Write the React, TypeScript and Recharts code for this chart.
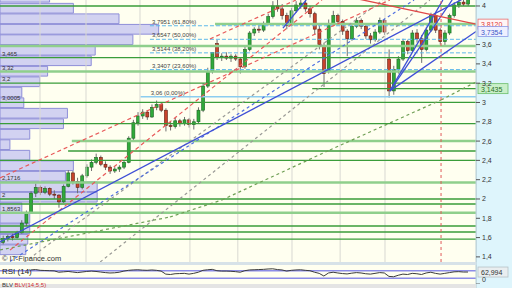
import React from "react";
import { ComposedChart, LineChart, Line, Bar, XAxis, YAxis, ReferenceLine, ReferenceArea } from "recharts";

// daily candles, left to right
const opens = [
  1.55, 1.59, 1.61, 1.6, 1.65, 1.75, 1.86, 2.06, 2.12, 2.07,
  2.11, 2.05, 2.04, 1.97, 2.13, 2.27, 2.18, 2.12, 2.24, 2.33,
  2.38, 2.43, 2.36, 2.33, 2.29, 2.31, 2.33, 2.38, 2.63, 2.79,
  2.86, 2.9, 2.85, 2.95, 2.98, 2.92, 2.76, 2.75, 2.81, 2.78,
  2.82, 2.77, 2.8, 2.92, 3.17, 3.32, 3.61, 3.47, 3.48, 3.46,
  3.48, 3.45, 3.37, 3.55, 3.72, 3.76, 3.75, 3.82, 3.89, 4.0,
  3.97, 3.9, 3.8, 3.95, 4.01, 4.03, 3.97, 3.92, 3.76, 3.58,
  3.32, 3.82, 3.9, 3.84, 3.74, 3.66, 3.79, 3.85, 3.79, 3.69,
  3.65, 3.73, 3.85, 3.45, 3.12, 3.34, 3.45, 3.63, 3.54, 3.72,
  3.66, 3.55, 3.75, 3.9, 3.75, 3.63, 3.72, 3.9, 4.01, 4.04,
  4.02,
];
const highs = [
  1.62, 1.63, 1.64, 1.67, 1.78, 1.88, 2.08, 2.16, 2.14, 2.13,
  2.12, 2.09, 2.05, 2.15, 2.3, 2.29, 2.22, 2.26, 2.36, 2.41,
  2.47, 2.45, 2.39, 2.35, 2.33, 2.35, 2.4, 2.65, 2.82, 2.9,
  2.93, 2.92, 2.98, 3.02, 3.0, 2.94, 2.8, 2.84, 2.83, 2.85,
  2.84, 2.83, 2.95, 3.2, 3.36, 3.52, 3.65, 3.51, 3.52, 3.5,
  3.5, 3.47, 3.58, 3.74, 3.78, 3.8, 3.84, 3.92, 4.05, 4.08,
  4.02, 3.93, 3.98, 4.05, 4.08, 4.06, 4.0, 3.94, 3.8, 3.62,
  3.86, 3.95, 3.92, 3.86, 3.76, 3.82, 3.88, 3.87, 3.81, 3.72,
  3.76, 3.88, 3.87, 3.55, 3.38, 3.48, 3.66, 3.65, 3.75, 3.76,
  3.7, 3.78, 3.93, 3.92, 3.77, 3.75, 3.92, 4.04, 4.08, 4.09,
  4.1,
];
const lows = [
  1.53, 1.56, 1.57, 1.59, 1.64, 1.72, 1.85, 2.02, 2.04, 2.05,
  2.03, 2.0, 1.91, 1.96, 2.12, 2.15, 2.06, 2.1, 2.22, 2.29,
  2.36, 2.34, 2.3, 2.26, 2.27, 2.28, 2.31, 2.37, 2.6, 2.76,
  2.83, 2.82, 2.84, 2.92, 2.9, 2.7, 2.71, 2.73, 2.75, 2.76,
  2.74, 2.72, 2.78, 2.9, 3.15, 3.3, 3.44, 3.43, 3.44, 3.42,
  3.43, 3.3, 3.35, 3.53, 3.69, 3.72, 3.73, 3.8, 3.87, 3.94,
  3.86, 3.76, 3.79, 3.93, 3.97, 3.94, 3.88, 3.7, 3.55, 3.16,
  3.3, 3.8, 3.8, 3.7, 3.48, 3.64, 3.77, 3.76, 3.66, 3.61,
  3.63, 3.71, 3.7, 3.05, 3.08, 3.3, 3.43, 3.5, 3.52, 3.62,
  3.41, 3.53, 3.73, 3.72, 3.6, 3.58, 3.7, 3.88, 3.98, 4.0,
  4.0,
];
const closes = [
  1.59, 1.61, 1.6, 1.65, 1.75, 1.86, 2.06, 2.12, 2.07, 2.11,
  2.05, 2.04, 1.97, 2.13, 2.27, 2.18, 2.12, 2.24, 2.33, 2.38,
  2.43, 2.36, 2.33, 2.29, 2.31, 2.33, 2.38, 2.63, 2.79, 2.86,
  2.9, 2.85, 2.95, 2.98, 2.92, 2.76, 2.75, 2.81, 2.78, 2.82,
  2.77, 2.8, 2.92, 3.17, 3.32, 3.52, 3.47, 3.48, 3.46, 3.48,
  3.45, 3.37, 3.55, 3.72, 3.76, 3.75, 3.82, 3.89, 4.0, 3.97,
  3.9, 3.8, 3.95, 4.01, 4.03, 3.97, 3.92, 3.76, 3.6, 3.3,
  3.82, 3.9, 3.84, 3.74, 3.66, 3.79, 3.85, 3.79, 3.69, 3.65,
  3.73, 3.85, 3.73, 3.12, 3.34, 3.45, 3.63, 3.54, 3.72, 3.66,
  3.55, 3.75, 3.9, 3.75, 3.63, 3.72, 3.9, 4.01, 4.04, 4.02,
  4.07,
];
const rsi14 = [
  null, null, null, null, null, null, 74, 76, 72, 71,
  70, 69, 62, 64, 66, 63, 60, 63, 66, 68,
  66, 63, 60, 58, 59, 62, 68, 72, 74, 75,
  73, 72, 74, 72, 68, 52, 50, 54, 55, 56,
  52, 56, 62, 72, 75, 77, 70, 68, 68, 67,
  65, 62, 70, 74, 75, 76, 77, 79, 80, 76,
  74, 68, 72, 74, 75, 72, 70, 62, 56, 42,
  58, 62, 58, 55, 53, 57, 60, 58, 54, 52,
  56, 60, 58, 40, 38, 46, 52, 50, 56, 54,
  50, 58, 62, 56, 52, 56, 60, 64, 65, 63,
  63,
];

const priceTicks = [1.4, 1.6, 1.8, 2, 2.2, 2.4, 2.6, 2.8, 3, 3.2, 3.4, 3.6, 4];

// volume by price: bin top price and volume (k)
const vpTops = [4.145, 4.031, 3.922, 3.813, 3.705, 3.596, 3.487, 3.378, 3.269, 3.161, 3.052, 2.943, 2.834, 2.725, 2.617, 2.508, 2.399, 2.29, 2.181, 2.073, 1.964, 1.855, 1.746, 1.637, 1.528];
const vpVolumes = [25, 37, 60, 80, 67, 48, 46, 24, 20, 11, 12, 34, 32, 15, 5, 15, 37, 33, 49, 49, 11, 15, 15, 14, 13];
const vpStep = 0.1088;
const VP_MAX = 240; // volume that would span the full plot width

// support / resistance levels
const darkLevels = [4.0, 3.465, 3.2, 3.0005, 2.78, 2.4, 2, 1.948, 1.72, 1.658, 1.585];
const lightLevels = [3.585, 3.32, 2.1716, 1.8563];
const partialDark = [[3.1435, 66.5], [2.497, 14]];
const partialLight = [[3.813, 45.6], [2.6, 14.8]];
const taggedLevels = [3.465, 3.32, 3.2, 3.0005, 2.1716, 2, 1.8563];

// fibonacci retracement
const fibPrices = [3.7951, 3.6547, 3.5144, 3.3407];
const fibPct = ["61,80%", "50,00%", "38,20%", "23,60%"];
const fibBase = 3.06;
const fibStart = 31.6;

// trend lines, [index, price] pairs
const blueSolid = [
  [[-0.645, 1.554], [101.72, 4.145]],
  [[83.2, 3.12], [101.72, 3.7354]],
  [[83.2, 3.12], [94.6, 4.062]],
  [[83.2, 3.12], [96.6, 4.062]],
  [[60.2, 3.77], [65.2, 4.062]],
];
const redSolid = [[[70, 4.138], [101.72, 3.812]]];
const redDashed = [
  [[-0.645, 2.218], [83.2, 4.062]],
  [[44.5, 3.658], [63, 4.062]],
  [[1.5, 1.47], [68.6, 4.062]],
];
const grayDashed = [
  [[-0.645, 1.161], [81.7, 4.062]],
  [[20.9, 1.347], [91.8, 4.062]],
];
const blueDashed = [[[-0.645, 1.285], [88.4, 4.062]]];
const greenDashedPts = [[-0.645, 1.472], [35.9, 1.813], [47.1, 1.99], [70.3, 2.508], [94.2, 3.026], [101.72, 3.212]];

const monthLines = [7.96, 17.85, 29.46, 40.2, 50.5, 62.15, 72.5, 82.15];
const markerIdx = 94.2;

const X_DOMAIN: [number, number] = [-0.645, 101.72];
const Y_DOMAIN: [number, number] = [1.347, 4.062];

const fmt = (v: number) => String(v).replace(".", ",");
const volToX = (v: number) => X_DOMAIN[0] + (v / VP_MAX) * (X_DOMAIN[1] - X_DOMAIN[0]);

const candles = opens.map((o, i) => ({
  i,
  open: o,
  high: highs[i],
  low: lows[i],
  close: closes[i],
  range: [lows[i], highs[i]],
}));
const rsiData = rsi14.map((r, i) => ({ i, rsi: r }));

const Candle = (props: any) => {
  const { x, y, width, height, payload } = props;
  if (height == null || !payload) return null;
  const k = height / (payload.high - payload.low);
  const py = (v: number) => y + (payload.high - v) * k;
  const up = payload.close >= payload.open;
  const top = py(Math.max(payload.open, payload.close));
  const bot = py(Math.min(payload.open, payload.close));
  const cx = x + width / 2;
  return (
    <g>
      <line x1={cx} x2={cx} y1={y} y2={y + height} stroke="#6f6f6f" strokeWidth={1} />
      <rect
        x={x}
        y={top}
        width={width}
        height={Math.max(1, bot - top)}
        fill={up ? "#2faa3a" : "#c8432c"}
        stroke={up ? "#1c6322" : "#5e1d12"}
        strokeWidth={0.6}
      />
    </g>
  );
};

const PriceTag = ({ vb, text, color, bg, border }: any) => {
  if (!vb) return null;
  const x = vb.x + vb.width + 2;
  return (
    <g>
      <rect x={x} y={vb.y - 5} width={30} height={10} fill={bg} stroke={border} strokeWidth={0.8} />
      <text x={x + 3} y={vb.y + 3} fontSize={7} fontFamily="Liberation Sans, Arial" fill={color}>
        {text}
      </text>
    </g>
  );
};

const font = "Liberation Sans, Arial, sans-serif";

export default function App() {
  return (
    <div style={{ position: "absolute", left: 0, top: 0, width: 512, height: 288, overflow: "hidden", background: "#fffff0", fontFamily: font }}>
      <div style={{ position: "absolute", left: 476, top: 0, width: 36, height: 288, background: "#def5fc", borderLeft: "1px solid #c9dfe6" }} />
      <div style={{ position: "absolute", left: 0, top: 262, width: 476, height: 3, background: "#d7e2e8" }} />
      <div style={{ position: "absolute", left: 0, top: 284, width: 476, height: 4, background: "#e4e4e4" }} />

      <div style={{ position: "absolute", left: 0, top: 0 }}>
        <ComposedChart width={512} height={262} data={candles} margin={{ top: 0, right: 0, bottom: 0, left: 0 }}>
          <XAxis dataKey="i" type="number" domain={X_DOMAIN} allowDataOverflow hide />
          <YAxis
            orientation="right"
            width={36}
            domain={Y_DOMAIN}
            allowDataOverflow
            ticks={priceTicks}
            interval={0}
            tickFormatter={fmt}
            tick={{ fontSize: 7, fill: "#333", fontFamily: font }}
            tickLine={{ stroke: "#555" }}
            tickSize={4}
            tickMargin={2}
            axisLine={{ stroke: "#b9cfd6" }}
          />

          {monthLines.map((m) => (
            <ReferenceLine key={`m${m}`} x={m} stroke="#d9d9d2" strokeWidth={1} />
          ))}

          {vpTops.map((t, k) => (
            <ReferenceArea
              key={`vp${k}`}
              x1={X_DOMAIN[0]}
              x2={volToX(vpVolumes[k])}
              y1={t - vpStep + 0.004}
              y2={t - 0.004}
              ifOverflow="hidden"
              fill="#c7c7f1"
              fillOpacity={0.8}
              stroke="#8e8ed8"
              strokeWidth={1}
            />
          ))}

          {lightLevels.map((p) => (
            <ReferenceLine key={`l${p}`} y={p} stroke="#8fcf8c" strokeWidth={2.5} />
          ))}
          {partialLight.map(([p, s]) => (
            <ReferenceLine key={`pl${p}`} segment={[{ x: s, y: p }, { x: X_DOMAIN[1], y: p }]} stroke="#8fcf8c" strokeWidth={2.5} ifOverflow="hidden" />
          ))}
          {darkLevels.map((p) => (
            <ReferenceLine key={`d${p}`} y={p} stroke="#3a9d3a" strokeWidth={1.3} />
          ))}
          {partialDark.map(([p, s]) => (
            <ReferenceLine key={`pd${p}`} segment={[{ x: s, y: p }, { x: X_DOMAIN[1], y: p }]} stroke="#3a9d3a" strokeWidth={1.3} ifOverflow="hidden" />
          ))}
          {taggedLevels.map((p) => (
            <ReferenceLine
              key={`t${p}`}
              y={p}
              stroke="none"
              label={(lp: any) => (
                <text x={(lp.viewBox?.x ?? 0) + 2} y={(lp.viewBox?.y ?? 0) - 2} fontSize={6} fontFamily={font} fill="#333">
                  {fmt(p)}
                </text>
              )}
            />
          ))}

          {fibPrices.map((p, k) => (
            <ReferenceLine
              key={`f${p}`}
              segment={[{ x: fibStart, y: p }, { x: X_DOMAIN[1], y: p }]}
              stroke="#5db8ea"
              strokeWidth={1}
              strokeDasharray="4 2"
              ifOverflow="hidden"
              label={(lp: any) => (
                <text x={(lp.viewBox?.x ?? 0) + 2} y={(lp.viewBox?.y ?? 0) - 2} fontSize={6} fontFamily={font} fill="#444">
                  {`${fmt(p)} (${fibPct[k]})`}
                </text>
              )}
            />
          ))}
          <ReferenceLine
            segment={[{ x: fibStart - 2, y: fibBase }, { x: X_DOMAIN[1], y: fibBase }]}
            stroke="#8ccdf0"
            strokeWidth={1.5}
            ifOverflow="hidden"
            label={(lp: any) => (
              <text x={(lp.viewBox?.x ?? 0) + 10} y={(lp.viewBox?.y ?? 0) - 2} fontSize={6} fontFamily={font} fill="#444">
                {`${fmt(fibBase)} (0,00%)`}
              </text>
            )}
          />

          {grayDashed.map((s, k) => (
            <ReferenceLine key={`g${k}`} segment={s.map(([x, y]) => ({ x, y }))} stroke="#9a9a96" strokeDasharray="3 3" strokeWidth={1.2} ifOverflow="hidden" />
          ))}
          {blueDashed.map((s, k) => (
            <ReferenceLine key={`bd${k}`} segment={s.map(([x, y]) => ({ x, y }))} stroke="#4f6fe0" strokeDasharray="3 3" strokeWidth={1.2} ifOverflow="hidden" />
          ))}
          {greenDashedPts.slice(1).map((pt, k) => (
            <ReferenceLine
              key={`gd${k}`}
              segment={[{ x: greenDashedPts[k][0], y: greenDashedPts[k][1] }, { x: pt[0], y: pt[1] }]}
              stroke="#6f9f55"
              strokeDasharray="3 3"
              strokeWidth={1.2}
              ifOverflow="hidden"
            />
          ))}
          {redDashed.map((s, k) => (
            <ReferenceLine key={`rd${k}`} segment={s.map(([x, y]) => ({ x, y }))} stroke="#e85a5a" strokeDasharray="4 3" strokeWidth={1.2} ifOverflow="hidden" />
          ))}
          {blueSolid.map((s, k) => (
            <ReferenceLine key={`bs${k}`} segment={s.map(([x, y]) => ({ x, y }))} stroke="#3f4fd6" strokeWidth={1.3} ifOverflow="hidden" />
          ))}
          {redSolid.map((s, k) => (
            <ReferenceLine key={`rs${k}`} segment={s.map(([x, y]) => ({ x, y }))} stroke="#e04848" strokeWidth={1.3} ifOverflow="hidden" />
          ))}
          <ReferenceLine x={markerIdx} stroke="#e05a5a" strokeDasharray="3 3" strokeWidth={1} />

          <Bar dataKey="range" barSize={3} isAnimationActive={false} shape={(p: any) => <Candle {...p} />} />

          <ReferenceLine y={3.812} stroke="none" label={(lp: any) => <PriceTag vb={lp.viewBox} text="3,8120" color="#e03535" bg="#fff5f5" border="#e87070" />} />
          <ReferenceLine y={3.7354} stroke="none" label={(lp: any) => <PriceTag vb={lp.viewBox} text="3,7354" color="#3a56c8" bg="#eef0ff" border="#8a9ae6" />} />
          <ReferenceLine y={3.1435} stroke="none" label={(lp: any) => <PriceTag vb={lp.viewBox} text="3,1435" color="#276f27" bg="#c9efc9" border="#6cbf6c" />} />
        </ComposedChart>
      </div>

      <div style={{ position: "absolute", left: 2, top: 254, fontSize: 7.5, color: "#333", fontFamily: font }}>© IT-Finance.com</div>

      <div style={{ position: "absolute", left: 0, top: 265 }}>
        <LineChart width={512} height={19} data={rsiData} margin={{ top: 0, right: 0, bottom: 0, left: 0 }}>
          <XAxis dataKey="i" type="number" domain={X_DOMAIN} allowDataOverflow hide />
          <YAxis orientation="right" width={36} domain={[0, 100]} ticks={[0]} tick={{ fontSize: 7, fill: "#333", fontFamily: font }} tickSize={4} tickMargin={2} axisLine={{ stroke: "#b9cfd6" }} />
          <ReferenceLine y={70} stroke="#8c8ce8" strokeWidth={1.5} />
          <ReferenceLine y={30} stroke="#8c8ce8" strokeWidth={1.5} />
          <Line dataKey="rsi" stroke="#3a3a3a" strokeWidth={1} dot={false} isAnimationActive={false} />
          <ReferenceLine y={62.994} stroke="none" label={(lp: any) => <PriceTag vb={lp.viewBox} text="62,994" color="#333" bg="#e9eef0" border="#b7c2c7" />} />
        </LineChart>
      </div>
      <div style={{ position: "absolute", left: 2, top: 267, fontSize: 8, color: "#222", fontFamily: font }}>RSI (14)</div>
      <div style={{ position: "absolute", left: 2, top: 282, fontSize: 6, lineHeight: "7px", color: "#333", fontFamily: font, whiteSpace: "nowrap" }}>
        BLV <span style={{ color: "#d03030" }}>BLV(14,5,5)</span>
      </div>
    </div>
  );
}
